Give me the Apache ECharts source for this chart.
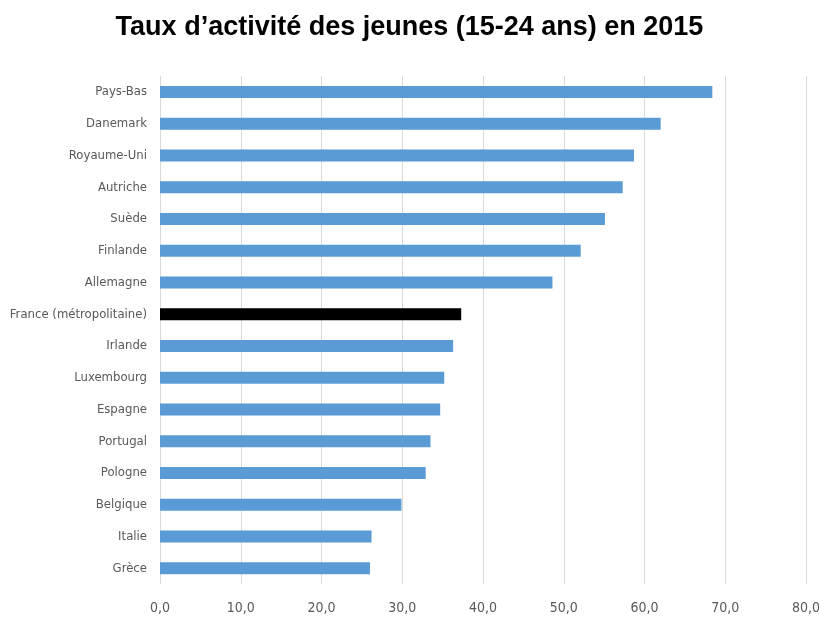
<!DOCTYPE html>
<html>
<head>
<meta charset="utf-8">
<script src="https://cdn.jsdelivr.net/npm/echarts@6/dist/echarts.min.js"></script>
<style>
  html, body { margin: 0; padding: 0; background: #fff; }
  #chart { width: 819px; height: 623px; }
</style>
</head>
<body>
<div id="chart"></div>
<script>
var titleText = 'Taux d\u2019activit\u00e9 des jeunes (15-24 ans) en 2015';

var countries = ['Pays-Bas', 'Danemark', 'Royaume-Uni', 'Autriche', 'Su\u00e8de', 'Finlande',
  'Allemagne', 'France (m\u00e9tropolitaine)', 'Irlande', 'Luxembourg', 'Espagne',
  'Portugal', 'Pologne', 'Belgique', 'Italie', 'Gr\u00e8ce'];

var rates = [68.4, 62.0, 58.7, 57.3, 55.1, 52.1, 48.6, 37.3, 36.3, 35.2, 34.7, 33.5, 32.9, 29.9, 26.2, 26.0];

var highlighted = 'France (m\u00e9tropolitaine)';

var labelFont = '"Liberation Sans Narrow", "DejaVu Sans Condensed", "Open Sans", sans-serif';

var myChart = echarts.init(document.getElementById('chart'));

var barData = rates.map(function (v, i) {
  if (countries[i] == highlighted) {
    return { value: v, itemStyle: { color: '#000000' } };
  }
  return v;
});

myChart.setOption({
  animation: false,
  title: {
    text: titleText,
    left: 'center',
    top: 9,
    textStyle: {
      fontFamily: '"Liberation Sans", Arial, sans-serif',
      fontWeight: 'bold',
      fontSize: 27,
      color: '#000'
    }
  },
  grid: {
    left: 160,
    right: 13,
    top: 76,
    bottom: 39,
    containLabel: false,
    outerBoundsMode: 'none'
  },
  xAxis: {
    type: 'value',
    min: 0,
    max: 80,
    interval: 10,
    axisLine: { show: false },
    axisTick: { show: false },
    splitLine: { show: true, lineStyle: { color: '#d9d9d9', width: 1 } },
    axisLabel: {
      margin: 17,
      fontFamily: labelFont,
      fontSize: 14,
      color: '#595959',
      formatter: function (v) { return v.toFixed(1).replace('.', ','); }
    }
  },
  yAxis: {
    type: 'category',
    data: countries,
    inverse: true,
    axisLine: { show: true, lineStyle: { color: '#d9d9d9' } },
    axisTick: { show: false },
    axisLabel: {
      margin: 13,
      fontFamily: labelFont,
      fontSize: 13,
      color: '#595959'
    }
  },
  series: [{
    name: 'Taux',
    type: 'bar',
    data: barData,
    barWidth: 12,
    itemStyle: { color: '#5b9bd5' }
  }]
});
</script>
</body>
</html>
